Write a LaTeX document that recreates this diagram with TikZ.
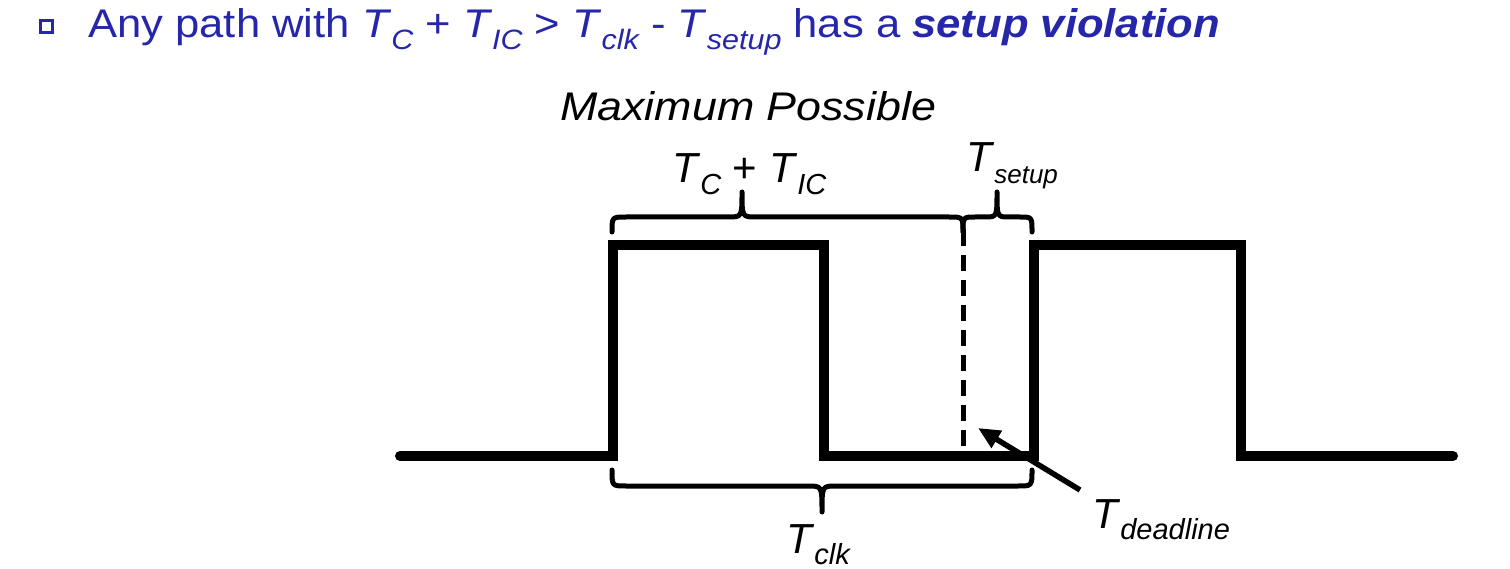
\documentclass[tikz,border=0pt]{standalone}
\usepackage{fontspec}
\setmainfont{Liberation Sans}
\usetikzlibrary{arrows.meta}
\definecolor{titleblue}{RGB}{38,38,170}
\newcommand\Tt[1]{\textit{T}\raisebox{-0.28em}{\fontsize{28}{28}\selectfont\itshape #1}}
\newcommand\Td[2][29]{\textit{T}\raisebox{-0.28em}{\fontsize{#1}{#1}\selectfont\itshape #2}}
\tikzset{
  wave/.style={line width=10pt, line cap=round, line join=miter},
  bracestyle/.style={line width=5pt, line cap=round, line join=round},
  deadline/.style={line width=5pt, dash pattern=on 16pt off 9pt},
  pointer/.style={line width=5.5pt, -{Triangle[length=22pt,width=19pt]}},
  titletext/.style={text=titleblue, inner sep=0pt, xscale=1.09, font=\fontsize{40}{48}\selectfont},
  label/.style={inner sep=0pt, font=\fontsize{42}{50}\selectfont},
}
% xL xR xT e h t r
\newcommand\bracepath[7]{%
  \draw[bracestyle] (#1,#4) .. controls (#1,#5) .. (#1+#7,#5) -- (#3-#7,#5)
    .. controls (#3,#5) .. (#3,#6)
    .. controls (#3,#5) .. (#3+#7,#5) -- (#2-#7,#5)
    .. controls (#2,#5) .. (#2,#4);}
\begin{document}
\begin{tikzpicture}[x=1pt,y=-1pt]
\useasboundingbox (0,0) rectangle (1510,569);
% title
\draw[titleblue, line width=2.4pt, fill=white] (40.5,20.5) rectangle (52.5,32.5);
\node[titletext, anchor=base west] (title) at (88,38)
  {Any path with \Tt{C} + \Tt{IC} > \Tt{clk} - \Tt{setup} has a \textbf{\textit{setup violation}}};
% waveform
\coordinate (w0) at (400,456);
\coordinate (r1) at (613,456);
\coordinate (f1) at (824,456);
\coordinate (r2) at (1034,456);
\coordinate (f2) at (1241,456);
\coordinate (w9) at (1453,456);
\draw[wave] (w0) -- (r1) -- (613,245) -- (824,245) -- (f1) -- (r2) -- (1034,245) -- (1241,245) -- (f2) -- (w9);
% deadline
\coordinate (dtop) at (963,230);
\coordinate (dbot) at (963,452);
\draw[deadline] (dtop) -- (dbot);
% braces
\bracepath{612}{963}{742}{232}{217}{192}{14}
\bracepath{963}{1032}{997}{232}{217}{192}{12}
\bracepath{612}{1032}{822}{470}{486}{512}{14}
% labels
\node[label, anchor=base west, xscale=1.12, font=\fontsize{40}{46}\selectfont\itshape] (maxposs) at (560,121) {Maximum Possible};
\node[label, anchor=base west] (tcic) at (672,183) {\Td{C} + \Td{IC}};
\node[label, anchor=base west] (tsetup) at (966,172) {\Td[26]{setup}};
\node[label, anchor=base west] (tclk) at (786,553) {\Td{clk}};
\node[label, anchor=base west] (tdead) at (1092,528) {\Td{deadline}};
% pointer
\coordinate (ptail) at (1080,490);
\coordinate (phead) at (978,428);
\draw[pointer] (ptail) -- (phead);
\end{tikzpicture}
\end{document}
